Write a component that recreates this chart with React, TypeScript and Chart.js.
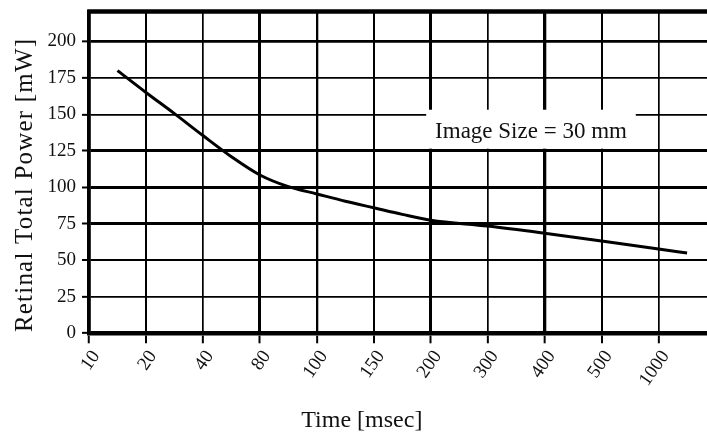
import React, { useEffect, useRef } from 'react';
import { Chart, registerables } from 'chart.js';

Chart.register(...registerables);

// ---- data ----
const timeLabels = ['10', '20', '40', '80', '100', '150', '200', '300', '400', '500', '1000'];
const curvePos = [0.5, 1, 1.5, 2, 2.5, 3, 3.5, 4, 4.5, 5, 5.5, 6, 7, 8, 9, 10, 10.5];
const curvePower = [180, 165, 150.5, 135.5, 121, 108.5, 100.5, 95.5, 90.5, 86, 81.5, 77.5, 73.5, 68.6, 63.3, 57.8, 55];
const yTickValues = [0, 25, 50, 75, 100, 125, 150, 175, 200];
const noteText = 'Image Size = 30 mm';

// ---- styles ----
const FONT = '"Liberation Serif", "Times New Roman", serif';
const xGridWidths = [3.5, 2, 1.7, 3, 2.3, 2, 3, 1.7, 3.3, 2, 1.7];
const yGridWidths = [3.7, 1.7, 2, 3, 3, 3, 1.7, 1.7, 2.7];
const X_MAX = 10.85;
const Y_MAX = 220.5;
const noteBox = { x1: 5.92, x2: 9.6, y1: 126.5, y2: 153.2 };

const overlay = {
  id: 'overlay',
  beforeDatasetsDraw(chart: any) {
    const { ctx, chartArea, scales } = chart;
    const xs = scales.x;
    const ys = scales.y;
    ctx.save();
    // top border
    ctx.strokeStyle = '#000';
    ctx.lineWidth = 4.6;
    ctx.beginPath();
    ctx.moveTo(chartArea.left - 1.8, chartArea.top);
    ctx.lineTo(chartArea.right, chartArea.top);
    ctx.stroke();
    // annotation box
    const bx1 = xs.getPixelForValue(noteBox.x1);
    const bx2 = xs.getPixelForValue(noteBox.x2);
    const by1 = ys.getPixelForValue(noteBox.y2);
    const by2 = ys.getPixelForValue(noteBox.y1);
    ctx.fillStyle = '#fff';
    ctx.fillRect(bx1, by1, bx2 - bx1, by2 - by1);
    ctx.fillStyle = '#111';
    ctx.font = `23px ${FONT}`;
    ctx.textAlign = 'center';
    ctx.textBaseline = 'alphabetic';
    ctx.fillText(noteText, (bx1 + bx2) / 2, (by1 + by2) / 2 + 8.5);
    ctx.restore();
  },
  afterDraw(chart: any) {
    const { ctx, chartArea, scales } = chart;
    const xs = scales.x;
    const ys = scales.y;
    ctx.save();
    ctx.fillStyle = '#111';
    ctx.font = `24px ${FONT}`;
    ctx.textAlign = 'center';
    ctx.textBaseline = 'alphabetic';
    ctx.fillText('Time [msec]', xs.getPixelForValue(4.79), chartArea.bottom + 93.4);
    ctx.translate(31.7, ys.getPixelForValue(101.7));
    ctx.rotate(-Math.PI / 2);
    ctx.font = `25px ${FONT}`;
    (ctx as any).letterSpacing = '1.2px';
    ctx.fillText('Retinal Total Power [mW]', 0, 0);
    ctx.restore();
  },
};

export default function App() {
  const ref = useRef<HTMLCanvasElement>(null);
  useEffect(() => {
    if (!ref.current) return;
    const chart = new Chart(ref.current, {
      type: 'line',
      data: {
        datasets: [
          {
            data: curvePos.map((x, i) => ({ x, y: curvePower[i] })),
            borderColor: '#000',
            borderWidth: 3,
            pointRadius: 0,
            cubicInterpolationMode: 'monotone',
            fill: false,
          },
        ],
      },
      options: {
        animation: false,
        responsive: false,
        devicePixelRatio: 1,
        layout: { padding: { top: 11.5, right: 0, left: 0, bottom: 0 } },
        plugins: { legend: { display: false }, tooltip: { enabled: false } },
        scales: {
          x: {
            type: 'linear',
            min: 0,
            max: X_MAX,
            afterFit: (s: any) => {
              s.height = 100.7;
              s.paddingLeft = 0;
              s.paddingRight = 0;
            },
            afterBuildTicks: (s: any) => {
              s.ticks = timeLabels.map((_, i) => ({ value: i }));
            },
            border: { display: true, color: '#000', width: 3.6 },
            grid: {
              color: '#000',
              lineWidth: (c: any) => xGridWidths[c.index] ?? 1.7,
              tickLength: 10,
              tickWidth: 2,
              tickColor: '#000',
            },
            ticks: {
              minRotation: 55,
              maxRotation: 55,
              padding: 3,
              labelOffset: 7,
              color: '#111',
              font: { family: FONT, size: 19 },
              callback: (v: any) => timeLabels[Math.round(Number(v))] ?? '',
            },
          },
          y: {
            type: 'linear',
            min: 0,
            max: Y_MAX,
            afterFit: (s: any) => {
              s.width = 89;
              s.paddingTop = 0;
              s.paddingBottom = 0;
            },
            afterBuildTicks: (s: any) => {
              s.ticks = yTickValues.map((v) => ({ value: v }));
            },
            border: { display: true, color: '#000', width: 3.6 },
            grid: {
              color: '#000',
              lineWidth: (c: any) => yGridWidths[c.index] ?? 1.7,
              tickLength: 7,
              tickWidth: 2,
              tickColor: '#000',
            },
            ticks: {
              padding: 6,
              color: '#111',
              font: { family: FONT, size: 19 },
              callback: (v: any) => String(v),
            },
          },
        },
      },
      plugins: [overlay],
    });
    return () => chart.destroy();
  }, []);
  return (
    <div style={{ position: 'fixed', left: 0, top: 0, width: 707, height: 434, background: '#fff' }}>
      <canvas ref={ref} width={707} height={434} />
    </div>
  );
}
